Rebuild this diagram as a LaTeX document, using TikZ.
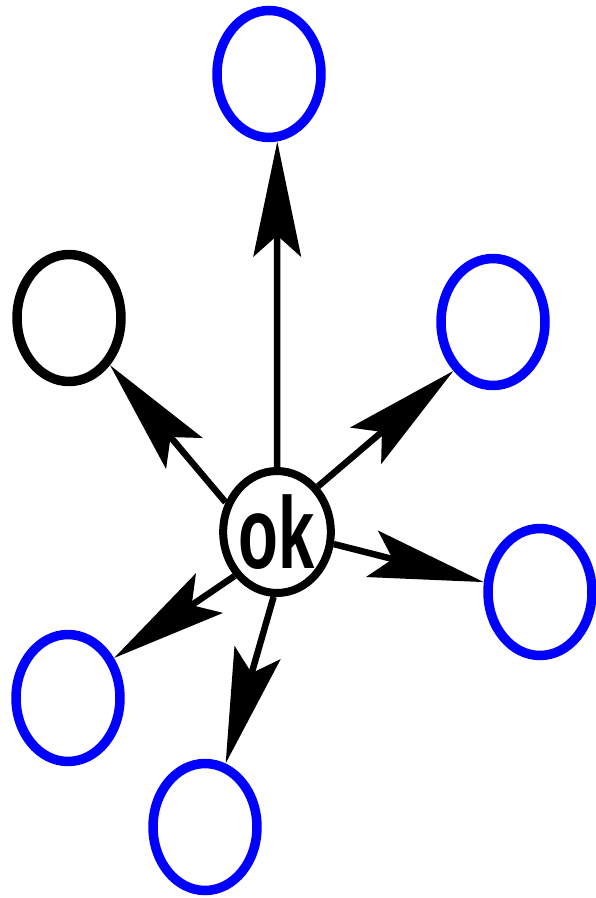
\documentclass[tikz,border=0pt]{standalone}
\usepackage{graphicx}
\usepackage{fontspec}
\usepackage{tikz}
\usetikzlibrary{arrows.meta,positioning,shapes.geometric}
\newfontfamily\labelfont{Liberation Sans}
\definecolor{leafblue}{HTML}{0000FF}

\begin{document}
\begin{tikzpicture}[
        x=0.02cm,y=-0.02cm,
        hub/.style={draw=black,ellipse,line width=0.16cm,inner sep=0pt,
                    minimum width=2.08cm,minimum height=2.44cm,
                    font=\labelfont\fontsize{58}{58}\selectfont\bfseries},
        leaf/.style={draw=black,ellipse,line width=0.19cm,inner sep=0pt,
                     minimum width=2.08cm,minimum height=2.54cm},
        blueleaf/.style={leaf,draw=leafblue},
        ptr/.style={line width=0.13cm,
                    -{Stealth[length=2.3cm,width=0.95cm,inset=0.42cm]}}
      ]
        \useasboundingbox (0,0) rectangle (595,898);

        \node[hub] (ok) at (277,532) {\raisebox{-0.1cm}{\scalebox{0.64}[1]{ok}}};

        \node[blueleaf] (top) at (269,74) {};
        \node[leaf] (left) at (69,318) {};
        \node[blueleaf] (rup) at (493,322) {};
        \node[blueleaf] (rlow) at (540,592) {};
        \node[blueleaf] (blow) at (68,698) {};
        \node[blueleaf] (bot) at (205,827) {};

        \draw[ptr] (ok.90)--(top.-83);
        \draw[ptr] (ok.150)--(left.-49);
        \draw[ptr] (ok.48)--(rup.231);
        \draw[ptr] (ok.-12)--(rlow.170);
        \draw[ptr] (ok.226)--(blow.41);
        \draw[ptr] (ok.-93)--(bot.72);
      \end{tikzpicture}
\end{document}
